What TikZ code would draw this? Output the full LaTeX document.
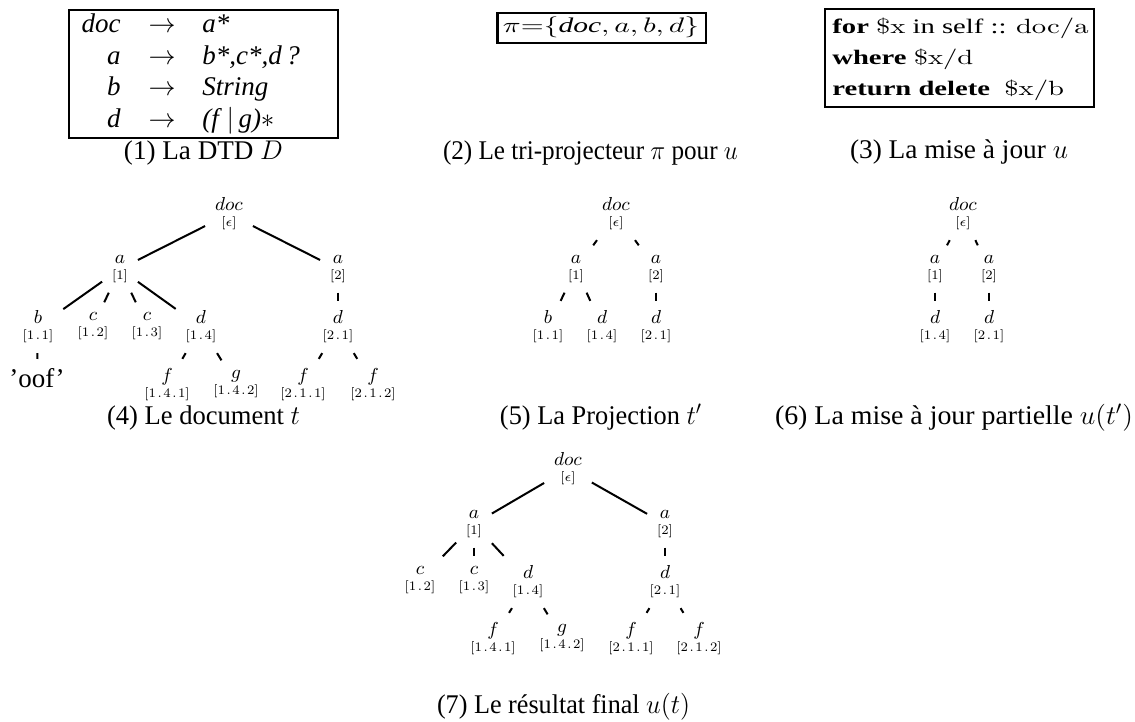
\RequirePackage{fix-cm}
\documentclass[tikz,border=0pt]{standalone}
\usepackage{graphicx}
\usepackage[no-math]{fontspec}
\setmainfont{Liberation Serif}
\newcommand{\ixf}{\fontfamily{lmr}\fontsize{6.5}{7}\selectfont}
\newcommand{\idxdot}{\kern0.8pt.\kern0.8pt}
\newcommand{\capfont}{\fontsize{13.5}{16}\selectfont}
\newcommand{\fitw}[2]{\resizebox{#1}{\height}{#2}}
\tikzset{
  tn/.style={inner sep=5pt, outer sep=0pt, align=center, font=\fontsize{9.4}{8}\selectfont},
  leaf/.style={inner sep=4.5pt, outer sep=0pt, font=\capfont, anchor=base},
  tedge/.style={line width=1pt},
  box/.style={draw, line width=1.2pt, inner sep=0pt},
  rowtext/.style={inner sep=0pt, font=\capfont},
  captext/.style={anchor=base, font=\capfont, inner sep=0pt}
}
\begin{document}
\begin{tikzpicture}[x=0.5pt,y=-0.5pt]
\useasboundingbox (0,0) rectangle (1135,722);

% ---------- (1) DTD ----------
\node[box, minimum width=134.5pt, minimum height=64pt] (dtd) at (203.5,74) {};
\node[rowtext, anchor=base east] (l1) at (121,33) {\textit{doc}};
\node[rowtext, anchor=base east] (l2) at (121,64.5) {\textit{a}};
\node[rowtext, anchor=base east] (l3) at (121,96) {\textit{b}};
\node[rowtext, anchor=base east] (l4) at (121,127.5) {\textit{d}};
\node[rowtext, anchor=base] (r1) at (162,33) {$\rightarrow$};
\node[rowtext, anchor=base] (r2) at (162,64.5) {$\rightarrow$};
\node[rowtext, anchor=base] (r3) at (162,96) {$\rightarrow$};
\node[rowtext, anchor=base] (r4) at (162,127.5) {$\rightarrow$};
\node[rowtext, anchor=base west] (e1) at (202,33) {\textit{a*}};
\node[rowtext, anchor=base west] (e2) at (202,64.5) {\textit{b*,c*,d\,?}};
\node[rowtext, anchor=base west] (e3) at (202,96) {\textit{String}};
\node[rowtext, anchor=base west] (e4) at (202,127.5) {\textit{(f}\,$|$\,\textit{g)}$*$};
\node[captext] (cap1) at (203.5,159) {\fitw{79.5pt}{(1) La DTD $D$}};

% ---------- (2) projector ----------
\node[box, minimum width=104.2pt, minimum height=15pt] (proj) at (601.7,28.3) {};
\node[inner sep=0pt, anchor=base, font=\fontsize{10.5}{12}\selectfont] (projtext) at (601,33)
  {\fitw{98pt}{$\pi{=}\{$\textit{doc}$, a, b, d\}$}};
\node[captext] (cap2) at (590.5,159) {\fitw{147.5pt}{(2) Le tri-projecteur $\pi$ pour $u$}};

% ---------- (3) update ----------
\node[box, minimum width=134.5pt, minimum height=49pt] (upd) at (959.5,58) {};
\node[inner sep=0pt, anchor=north west] (updtext) at (832,11.3) {\fitw{128pt}{\fontsize{10.3}{15.5}\selectfont
\begin{tabular}{@{}l@{}}
\textbf{for} $\mathrm{\$x}$ in self :: $\mathrm{doc/a}$\\
\textbf{where} $\mathrm{\$x/d}$\\
\textbf{return delete}\ \ $\mathrm{\$x/b}$
\end{tabular}}};
\node[captext] (cap3) at (959,159) {\fitw{109pt}{(3) La mise à jour $u$}};

% ---------- (4) document t ----------
\node[tn] (t4doc) at (229,214) {$doc$\\{\ixf[$\epsilon$]}};
\node[tn] (t4a1) at (120,269) {$a$\\{\ixf[1]}};
\node[tn] (t4a2) at (338,269) {$a$\\{\ixf[2]}};
\node[tn] (t4b) at (38,327) {$b$\\{\ixf[1\idxdot1]}};
\node[tn] (t4c2) at (93,326) {$c$\\{\ixf[1\idxdot2]}};
\node[tn] (t4c3) at (147,326) {$c$\\{\ixf[1\idxdot3]}};
\node[tn] (t4d4) at (201,327) {$d$\\{\ixf[1\idxdot4]}};
\node[tn] (t4d21) at (338,327) {$d$\\{\ixf[2\idxdot1]}};
\node[leaf] (t4oof) at (37,387) {'oof'};
\node[tn] (t4f41) at (167,385) {$f$\\{\ixf[1\idxdot4\idxdot1]}};
\node[tn] (t4g42) at (236,384) {$g$\\{\ixf[1\idxdot4\idxdot2]}};
\node[tn] (t4f211) at (303,385) {$f$\\{\ixf[2\idxdot1\idxdot1]}};
\node[tn] (t4f212) at (373,385) {$f$\\{\ixf[2\idxdot1\idxdot2]}};
\draw[tedge] (t4doc) -- (t4a1);
\draw[tedge] (t4doc) -- (t4a2);
\draw[tedge] (t4a1) -- (t4b);
\draw[tedge] (t4a1) -- (t4c2);
\draw[tedge] (t4a1) -- (t4c3);
\draw[tedge] (t4a1) -- (t4d4);
\draw[tedge] (t4a2) -- (t4d21);
\draw[tedge] (t4b) -- (t4oof);
\draw[tedge] (t4d4) -- (t4f41);
\draw[tedge] (t4d4) -- (t4g42);
\draw[tedge] (t4d21) -- (t4f211);
\draw[tedge] (t4d21) -- (t4f212);
\node[captext] (cap4) at (203.5,424) {\fitw{96.5pt}{(4) Le document $t$}};

% ---------- (5) projection t' ----------
\node[tn] (t5doc) at (616,214) {$doc$\\{\ixf[$\epsilon$]}};
\node[tn] (t5a1) at (576,269) {$a$\\{\ixf[1]}};
\node[tn] (t5a2) at (656,269) {$a$\\{\ixf[2]}};
\node[tn] (t5b) at (548,327) {$b$\\{\ixf[1\idxdot1]}};
\node[tn] (t5d4) at (602,327) {$d$\\{\ixf[1\idxdot4]}};
\node[tn] (t5d21) at (656,327) {$d$\\{\ixf[2\idxdot1]}};
\draw[tedge] (t5doc) -- (t5a1);
\draw[tedge] (t5doc) -- (t5a2);
\draw[tedge] (t5a1) -- (t5b);
\draw[tedge] (t5a1) -- (t5d4);
\draw[tedge] (t5a2) -- (t5d21);
\node[captext] (cap5) at (601,424) {\fitw{101pt}{(5) La Projection $t'$}};

% ---------- (6) partial update ----------
\node[tn] (t6doc) at (963,214) {$doc$\\{\ixf[$\epsilon$]}};
\node[tn] (t6a1) at (935,269) {$a$\\{\ixf[1]}};
\node[tn] (t6a2) at (989,269) {$a$\\{\ixf[2]}};
\node[tn] (t6d4) at (935,327) {$d$\\{\ixf[1\idxdot4]}};
\node[tn] (t6d21) at (989,327) {$d$\\{\ixf[2\idxdot1]}};
\draw[tedge] (t6doc) -- (t6a1);
\draw[tedge] (t6doc) -- (t6a2);
\draw[tedge] (t6a1) -- (t6d4);
\draw[tedge] (t6a2) -- (t6d21);
\node[captext] (cap6) at (954,424) {\fitw{179pt}{(6) La mise à jour partielle $u(t')$}};

% ---------- (7) final result ----------
\node[tn] (t7doc) at (568,469) {$doc$\\{\ixf[$\epsilon$]}};
\node[tn] (t7a1) at (474,524) {$a$\\{\ixf[1]}};
\node[tn] (t7a2) at (665,524) {$a$\\{\ixf[2]}};
\node[tn] (t7c2) at (420,580) {$c$\\{\ixf[1\idxdot2]}};
\node[tn] (t7c3) at (474,580) {$c$\\{\ixf[1\idxdot3]}};
\node[tn] (t7d4) at (528,582) {$d$\\{\ixf[1\idxdot4]}};
\node[tn] (t7d21) at (665,582) {$d$\\{\ixf[2\idxdot1]}};
\node[tn] (t7f41) at (493,639) {$f$\\{\ixf[1\idxdot4\idxdot1]}};
\node[tn] (t7g42) at (562,638) {$g$\\{\ixf[1\idxdot4\idxdot2]}};
\node[tn] (t7f211) at (631,639) {$f$\\{\ixf[2\idxdot1\idxdot1]}};
\node[tn] (t7f212) at (699,639) {$f$\\{\ixf[2\idxdot1\idxdot2]}};
\draw[tedge] (t7doc) -- (t7a1);
\draw[tedge] (t7doc) -- (t7a2);
\draw[tedge] (t7a1) -- (t7c2);
\draw[tedge] (t7a1) -- (t7c3);
\draw[tedge] (t7a1) -- (t7d4);
\draw[tedge] (t7a2) -- (t7d21);
\draw[tedge] (t7d4) -- (t7f41);
\draw[tedge] (t7d4) -- (t7g42);
\draw[tedge] (t7d21) -- (t7f211);
\draw[tedge] (t7d21) -- (t7f212);
\node[captext] (cap7) at (563.5,713) {\fitw{126.5pt}{(7) Le résultat final $u(t)$}};
\end{tikzpicture}
\end{document}
